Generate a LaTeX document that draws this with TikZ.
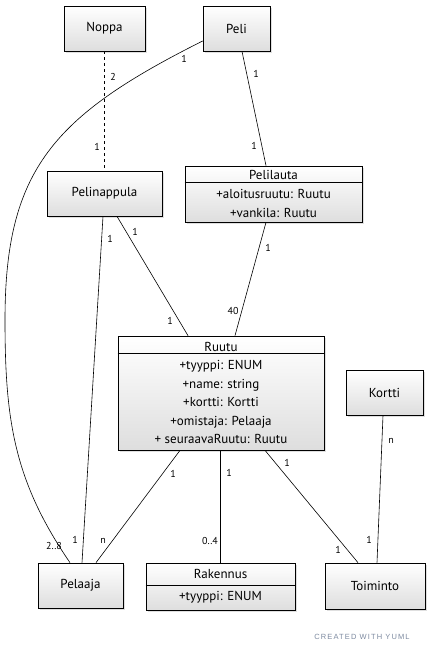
\documentclass[tikz,border=0pt]{standalone}
\usepackage{fontspec}
\setmainfont{PT Sans}
\newfontfamily\credfont[LetterSpace=15]{Liberation Sans}
\usetikzlibrary{
	shadows
}
\definecolor{yumlgrey}{RGB}{125,138,160}
\tikzset{
	klass/.style={draw=black, line width=0.7pt, top color=white, bottom color=black!13,
		drop shadow={opacity=0.25, shadow xshift=2pt, shadow yshift=-2pt},
		align=center, inner sep=0pt, font=\fontsize{13}{18.5}\selectfont},
	mult/.style={font=\fontsize{10}{11}\selectfont, inner sep=0pt},
	assoc/.style={line width=0.6pt}
}

\begin{document}
\begin{tikzpicture}[x=1pt,y=-1pt]
			\useasboundingbox (0,0) rectangle (431,653);

			\node[klass, minimum width=81pt,  minimum height=45pt] (noppa)       at (104.5,28.5) {Noppa};
			\node[klass, minimum width=67pt,  minimum height=45pt] (peli)        at (236.5,28.5) {Peli};
			\node[klass, minimum width=115pt, minimum height=45pt] (pelinappula) at (104.5,193.5) {Pelinappula};
			\node[klass, minimum width=177pt, minimum height=56pt, font=\fontsize{13}{19}\selectfont]
				(pelilauta) at (273.5,194) {Pelilauta\\+aloitusruutu: Ruutu\\+vankila: Ruutu};
			\node[klass, minimum width=206pt, minimum height=114pt]
				(ruutu) at (221,393) {Ruutu\\+tyyppi: ENUM\\+name: string\\+kortti: Kortti\\+omistaja: Pelaaja\\+ seuraavaRuutu: Ruutu};
			\node[klass, minimum width=77pt,  minimum height=45pt] (kortti)      at (384.5,392.5) {Kortti};
			\node[klass, minimum width=85pt,  minimum height=45pt] (pelaaja)     at (80.5,585.5) {Pelaaja};
			\node[klass, minimum width=149pt, minimum height=47pt, font=\fontsize{13}{22}\selectfont]
				(rakennus) at (220.5,586.5) {Rakennus\\+tyyppi: ENUM};
			\node[klass, minimum width=100pt, minimum height=46pt] (toiminto)    at (375,586) {Toiminto};

			% header dividers
			\draw[assoc] ([yshift=-17pt]pelilauta.north west) -- ([yshift=-17pt]pelilauta.north east);
			\draw[assoc] ([yshift=-18pt]ruutu.north west) -- ([yshift=-18pt]ruutu.north east);
			\draw[assoc] ([yshift=-23pt]rakennus.north west) -- ([yshift=-23pt]rakennus.north east);

			\draw[assoc,dashed] (noppa.south) -- (pelinappula.north);
			\draw[assoc] ([yshift=-12.5pt]peli.west) .. controls (53,116) and (5,170) .. (5,320)
				.. controls (5,420) and (14,481) .. ([xshift=-10.5pt]pelaaja.north);
			\draw[assoc] ([xshift=5.5pt]peli.south) -- ([xshift=-7.5pt]pelilauta.north);
			\draw[assoc] ([xshift=-1.5pt]pelinappula.south) -- ([xshift=1.5pt]pelaaja.north);
			\draw[assoc] ([xshift=12.5pt]pelinappula.south) -- ([xshift=-33pt]ruutu.north);
			\draw[assoc] ([xshift=-7.5pt]pelilauta.south) -- ([xshift=14pt]ruutu.north);
			\draw[assoc] ([xshift=-41pt]ruutu.south) -- ([xshift=15.5pt]pelaaja.north);
			\draw[assoc] ([xshift=-1pt]ruutu.south) -- ([xshift=-0.5pt]rakennus.north);
			\draw[assoc] ([xshift=44pt]ruutu.south) -- ([xshift=-17pt]toiminto.north);
			\draw[assoc] ([xshift=-1.5pt]kortti.south) -- ([xshift=2pt]toiminto.north);

			\draw
				node[mult] at (113,77)  {2}
				node[mult] at (97,147)  {1}
				node[mult] at (184,59)  {1}
				node[mult] at (54,546)  {2..8}
				node[mult] at (256,74)  {1}
				node[mult] at (254,146) {1}
				node[mult] at (110,239) {1}
				node[mult] at (75,540)  {1}
				node[mult] at (135,232) {1}
				node[mult] at (170,321) {1}
				node[mult] at (268,248) {1}
				node[mult] at (233,311) {40}
				node[mult] at (173,474) {1}
				node[mult] at (103,541) {n}
				node[mult] at (229,473) {1}
				node[mult] at (210,541) {0..4}
				node[mult] at (287,463) {1}
				node[mult] at (338,550) {1}
				node[mult] at (391,441) {n}
				node[mult] at (369,540) {1}
			;

			\node[text=yumlgrey, font=\credfont\fontsize{7.5}{9}\selectfont] (credit) at (362,637) {CREATED WITH YUML};
		\end{tikzpicture}
\end{document}
